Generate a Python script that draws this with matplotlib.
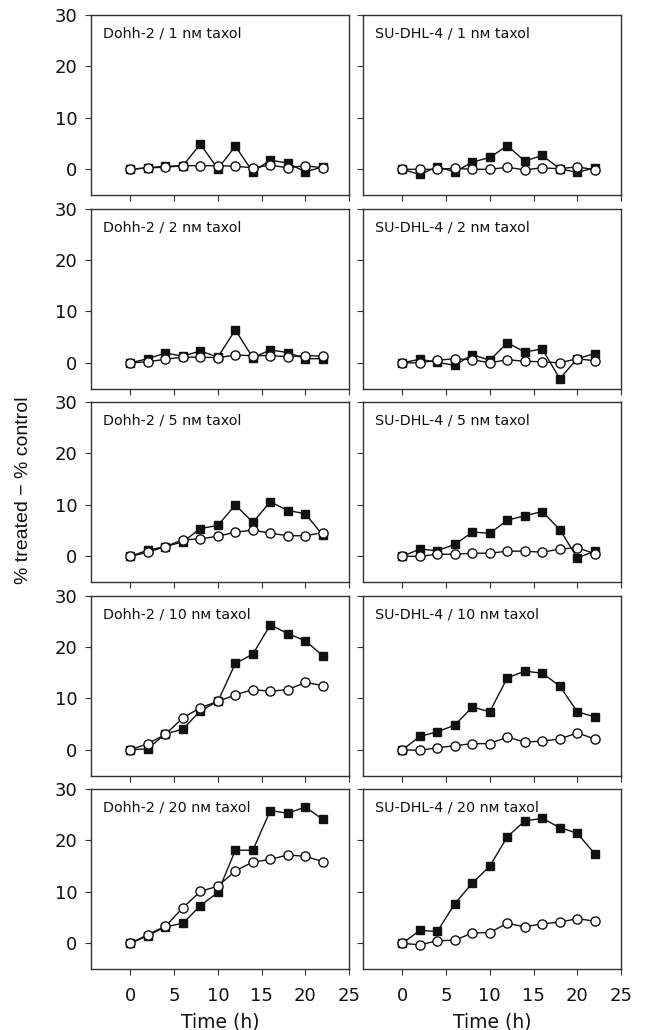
import matplotlib
matplotlib.use("Agg")
import matplotlib.pyplot as plt

plt.rcParams["font.family"] = ["DejaVu Sans"]

hours = [0, 2, 4, 6, 8, 10, 12, 14, 16, 18, 20, 22]
lines = ["Dohh-2", "SU-DHL-4"]
doses = [1, 2, 5, 10, 20]

# filled squares (treated series) and open circles, per (line, dose)
dohh_sq = {
    1: [0, 0.3, 0.6, 0.7, 4.9, 0.1, 4.5, -0.5, 1.8, 1.2, -0.5, 0.5],
    2: [0, 0.8, 1.9, 1.3, 2.3, 1.1, 6.4, 1.0, 2.5, 2.0, 0.8, 0.8],
    5: [0, 1.2, 1.9, 2.8, 5.4, 6.0, 10.0, 6.6, 10.6, 8.9, 8.3, 4.1],
    10: [0, 0.2, 3.1, 4.0, 7.6, 9.4, 16.8, 18.6, 24.3, 22.6, 21.2, 18.3],
    20: [0, 1.5, 3.2, 3.9, 7.3, 9.9, 18.1, 18.1, 25.8, 25.3, 26.5, 24.1],
}
dohh_ci = {
    1: [0, 0.3, 0.4, 0.7, 0.7, 0.7, 0.6, 0.3, 0.8, 0.3, 0.7, 0.3],
    2: [0, 0.2, 0.7, 1.1, 1.1, 1.0, 1.5, 1.4, 1.4, 1.2, 1.4, 1.3],
    5: [0, 0.8, 1.9, 3.2, 3.4, 3.9, 4.7, 5.1, 4.5, 4.0, 4.0, 4.6],
    10: [0, 1.2, 3.0, 6.2, 8.2, 9.4, 10.7, 11.7, 11.4, 11.7, 13.1, 12.5],
    20: [0, 1.7, 3.3, 6.9, 10.1, 11.1, 14.1, 15.8, 16.3, 17.2, 16.9, 15.9],
}
sudhl_sq = {
    1: [0, -1.0, 0.5, -0.5, 1.4, 2.3, 4.6, 1.6, 2.7, 0.1, -0.6, 0.3],
    2: [0, 0.7, 0.1, -0.5, 1.6, 0.5, 3.9, 2.1, 2.7, -3.1, 0.8, 1.8],
    5: [0, 1.4, 1.1, 2.3, 4.7, 4.5, 7.0, 7.9, 8.7, 5.2, -0.3, 1.0],
    10: [0, 2.6, 3.5, 4.8, 8.3, 7.4, 14.0, 15.3, 14.9, 12.4, 7.4, 6.4],
    20: [0, 2.5, 2.3, 7.7, 11.7, 15.0, 20.7, 23.8, 24.3, 22.5, 21.4, 17.4],
}
sudhl_ci = {
    1: [0, 0, 0, 0.2, 0, 0, 0.4, -0.1, 0.3, 0.1, 0.5, -0.1],
    2: [0, 0, 0.5, 0.8, 0.6, 0, 0.6, 0.3, 0.2, 0, 0.8, 0.4],
    5: [0, 0, 0.4, 0.4, 0.6, 0.6, 1.0, 1.0, 0.8, 1.4, 1.7, 0.5],
    10: [0, -0.1, 0.4, 0.8, 1.2, 1.2, 2.5, 1.5, 1.7, 2.1, 3.3, 2.1],
    20: [0, -0.3, 0.5, 0.6, 2.0, 2.1, 3.9, 3.2, 3.8, 4.1, 4.8, 4.3],
}
squares = {"Dohh-2": dohh_sq, "SU-DHL-4": sudhl_sq}
circles = {"Dohh-2": dohh_ci, "SU-DHL-4": sudhl_ci}

INK = "#111111"
FRAME = "#333333"

fig, axes = plt.subplots(5, 2, figsize=(6.46, 10.30), dpi=100,
                         sharex=True, sharey=True)
fig.subplots_adjust(left=0.1409, right=0.9613, top=0.9854, bottom=0.0592,
                    hspace=0.075, wspace=0.054)

for r, d in enumerate(doses):
    for c, ln in enumerate(lines):
        ax = axes[r, c]
        ax.plot(hours, squares[ln][d], "-s", color=INK, lw=1.0, ms=5.6,
                mfc=INK, mec=INK, zorder=3)
        ax.plot(hours, circles[ln][d], "-o", color=INK, lw=1.0, ms=6.6,
                mfc="white", mec=INK, mew=1.0, zorder=4)
        ax.text(0.045, 0.935, f"{ln} / {d} n\u1d0d taxol", transform=ax.transAxes,
                ha="left", va="top", fontsize=10.3, color=INK)
        for s in ax.spines.values():
            s.set_color(FRAME)
            s.set_linewidth(1.0)
        ax.tick_params(direction="out", length=4, width=0.8, color=FRAME,
                       labelsize=13, labelcolor=INK)
        ax.tick_params(axis="x", pad=9)
        ax.tick_params(axis="y", pad=6)
        if c == 1:
            ax.tick_params(labelleft=False)

ax0 = axes[0, 0]
ax0.set_xlim(-4.5, 25)
ax0.set_ylim(-5, 30)
ax0.set_xticks([0, 5, 10, 15, 20, 25])
ax0.set_yticks([0, 10, 20, 30])

for c in range(2):
    axes[4, c].set_xlabel("Time (h)", fontsize=13.5, color=INK, labelpad=5)

fig.text(0.036, 0.524, "% treated \u2212 % control", rotation=90,
         ha="center", va="center", fontsize=14, color=INK,
         family=["Liberation Sans Narrow", "Liberation Sans", "DejaVu Sans"])

fig.savefig("out.png", dpi=100)
